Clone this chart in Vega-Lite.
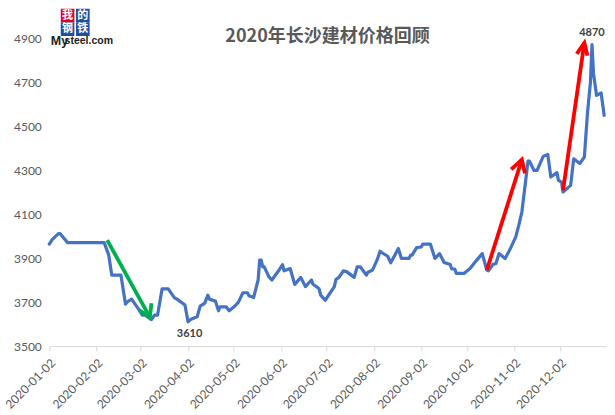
{"$schema":"https://vega.github.io/schema/vega-lite/v6.json","width":556.4,"height":308,"autosize":"none","padding":{"left":49.3,"top":38,"right":9.3,"bottom":69},"background":"white",
"title":{"text":"2020年长沙建材价格回顾","font":"Noto Sans CJK SC","fontSize":18,"fontWeight":"bold","color":"#595959","anchor":"middle","offset":-37},
"config":{"view":{"stroke":null}},
"datasets":{
"price":[{"date":"2020-01-02","value":3963},{"date":"2020-01-04","value":3985},{"date":"2020-01-08","value":4011},{"date":"2020-01-09","value":4011},{"date":"2020-01-14","value":3970},{"date":"2020-02-07","value":3970},{"date":"2020-02-10","value":3913},{"date":"2020-02-12","value":3822},{"date":"2020-02-18","value":3822},{"date":"2020-02-21","value":3690},{"date":"2020-02-22","value":3700},{"date":"2020-02-25","value":3713},{"date":"2020-03-01","value":3663},{"date":"2020-03-03","value":3640},{"date":"2020-03-05","value":3640},{"date":"2020-03-09","value":3620},{"date":"2020-03-11","value":3640},{"date":"2020-03-13","value":3640},{"date":"2020-03-16","value":3760},{"date":"2020-03-20","value":3760},{"date":"2020-03-24","value":3720},{"date":"2020-03-26","value":3712},{"date":"2020-03-31","value":3686},{"date":"2020-04-02","value":3610},{"date":"2020-04-04","value":3622},{"date":"2020-04-08","value":3633},{"date":"2020-04-10","value":3681},{"date":"2020-04-13","value":3695},{"date":"2020-04-15","value":3731},{"date":"2020-04-16","value":3713},{"date":"2020-04-20","value":3704},{"date":"2020-04-22","value":3660},{"date":"2020-04-23","value":3678},{"date":"2020-04-27","value":3678},{"date":"2020-04-29","value":3660},{"date":"2020-05-02","value":3677},{"date":"2020-05-05","value":3698},{"date":"2020-05-08","value":3742},{"date":"2020-05-11","value":3742},{"date":"2020-05-12","value":3728},{"date":"2020-05-15","value":3720},{"date":"2020-05-18","value":3800},{"date":"2020-05-19","value":3890},{"date":"2020-05-20","value":3890},{"date":"2020-05-21","value":3860},{"date":"2020-05-22","value":3860},{"date":"2020-05-25","value":3815},{"date":"2020-05-27","value":3800},{"date":"2020-06-01","value":3848},{"date":"2020-06-03","value":3870},{"date":"2020-06-04","value":3842},{"date":"2020-06-08","value":3852},{"date":"2020-06-11","value":3780},{"date":"2020-06-15","value":3812},{"date":"2020-06-18","value":3770},{"date":"2020-06-22","value":3800},{"date":"2020-06-23","value":3781},{"date":"2020-06-27","value":3760},{"date":"2020-06-28","value":3731},{"date":"2020-07-01","value":3708},{"date":"2020-07-07","value":3770},{"date":"2020-07-08","value":3802},{"date":"2020-07-10","value":3812},{"date":"2020-07-13","value":3842},{"date":"2020-07-15","value":3838},{"date":"2020-07-20","value":3812},{"date":"2020-07-22","value":3860},{"date":"2020-07-24","value":3860},{"date":"2020-07-28","value":3822},{"date":"2020-07-29","value":3835},{"date":"2020-08-01","value":3845},{"date":"2020-08-04","value":3890},{"date":"2020-08-06","value":3931},{"date":"2020-08-07","value":3925},{"date":"2020-08-11","value":3908},{"date":"2020-08-13","value":3878},{"date":"2020-08-18","value":3943},{"date":"2020-08-20","value":3898},{"date":"2020-08-25","value":3898},{"date":"2020-08-26","value":3913},{"date":"2020-08-27","value":3913},{"date":"2020-08-30","value":3947},{"date":"2020-09-02","value":3950},{"date":"2020-09-03","value":3963},{"date":"2020-09-08","value":3963},{"date":"2020-09-11","value":3898},{"date":"2020-09-14","value":3920},{"date":"2020-09-17","value":3880},{"date":"2020-09-21","value":3870},{"date":"2020-09-22","value":3850},{"date":"2020-09-24","value":3850},{"date":"2020-09-25","value":3830},{"date":"2020-09-30","value":3830},{"date":"2020-10-04","value":3852},{"date":"2020-10-08","value":3887},{"date":"2020-10-12","value":3920},{"date":"2020-10-15","value":3845},{"date":"2020-10-16","value":3842},{"date":"2020-10-19","value":3870},{"date":"2020-10-21","value":3875},{"date":"2020-10-23","value":3920},{"date":"2020-10-27","value":3898},{"date":"2020-10-30","value":3936},{"date":"2020-11-03","value":3996},{"date":"2020-11-05","value":4049},{"date":"2020-11-07","value":4109},{"date":"2020-11-09","value":4223},{"date":"2020-11-11","value":4340},{"date":"2020-11-12","value":4340},{"date":"2020-11-15","value":4298},{"date":"2020-11-17","value":4298},{"date":"2020-11-21","value":4362},{"date":"2020-11-24","value":4371},{"date":"2020-11-26","value":4268},{"date":"2020-11-30","value":4288},{"date":"2020-12-01","value":4253},{"date":"2020-12-03","value":4245},{"date":"2020-12-04","value":4200},{"date":"2020-12-09","value":4230},{"date":"2020-12-11","value":4351},{"date":"2020-12-15","value":4329},{"date":"2020-12-18","value":4359},{"date":"2020-12-20","value":4555},{"date":"2020-12-22","value":4700},{"date":"2020-12-23","value":4870},{"date":"2020-12-24","value":4739},{"date":"2020-12-26","value":4639},{"date":"2020-12-29","value":4650},{"date":"2020-12-31","value":4548}],
"arrows":[{"arrow":"down shaft","kind":"down","date":"2020-02-09","value":3981,"step":1},{"arrow":"down shaft","kind":"down","date":"2020-03-08","value":3630,"step":2},{"arrow":"down head","kind":"down","date":"2020-03-01","value":3663,"step":1},{"arrow":"down head","kind":"down","date":"2020-03-08","value":3630,"step":2},{"arrow":"down head","kind":"down","date":"2020-03-09","value":3694,"step":3},{"arrow":"up1 shaft","kind":"up","date":"2020-10-15","value":3845,"step":1},{"arrow":"up1 shaft","kind":"up","date":"2020-11-07","value":4347,"step":2},{"arrow":"up1 head","kind":"up","date":"2020-10-31","value":4303,"step":1},{"arrow":"up1 head","kind":"up","date":"2020-11-07","value":4347,"step":2},{"arrow":"up1 head","kind":"up","date":"2020-11-09","value":4285,"step":3},{"arrow":"up2 shaft","kind":"up","date":"2020-12-04","value":4208,"step":1},{"arrow":"up2 shaft","kind":"up","date":"2020-12-18","value":4878,"step":2},{"arrow":"up2 head","kind":"up","date":"2020-12-13","value":4828,"step":1},{"arrow":"up2 head","kind":"up","date":"2020-12-18","value":4878,"step":2},{"arrow":"up2 head","kind":"up","date":"2020-12-20","value":4820,"step":3}],
"notes":[{"date":"2020-04-03","value":3610,"label":"3610","dir":"below"},{"date":"2020-12-23","value":4870,"label":"4870","dir":"above"}],
"cells":[{"date":"2020-01-14","value":5002,"label":"我","tone":"red"},{"date":"2020-01-24","value":5002,"label":"的","tone":"blue"},{"date":"2020-01-14","value":4940,"label":"钢","tone":"blue"},{"date":"2020-01-24","value":4940,"label":"铁","tone":"blue"}],
"brandBig":[{"date":"2020-01-03","value":4888,"label":"My"}],
"brandSmall":[{"date":"2020-01-12","value":4886,"label":"steel.com"}]
},
"encoding":{
"x":{"field":"date","type":"temporal","title":null,"scale":{"type":"utc","domain":["2020-01-02","2021-01-01"],"nice":false},
"axis":{"values":["2020-01-02","2020-02-02","2020-03-02","2020-04-02","2020-05-02","2020-06-02","2020-07-02","2020-08-02","2020-09-02","2020-10-02","2020-11-02","2020-12-02"],"labelExpr":"utcFormat(datum.value,'%Y-%m-%d')","labelAngle":-45,"labelAlign":"right","labelBaseline":"top","labelFont":"Lato","labelFontSize":12,"labelColor":"#595959","domainColor":"#D9D9D9","domainWidth":1,"tickColor":"#D9D9D9","tickSize":5,"labelPadding":6,"grid":false,"labelOverlap":false,"labelBound":false,"labelFlush":false}},
"y":{"field":"value","type":"quantitative","title":null,"scale":{"domain":[3500,4900],"nice":false,"zero":false},
"axis":{"values":[3500,3700,3900,4100,4300,4500,4700,4900],"format":"d","grid":false,"domain":false,"ticks":false,"labelFont":"Lato","labelFontSize":12,"labelColor":"#595959","labelPadding":8}}
},
"layer":[
{"data":{"name":"price"},"mark":{"type":"line","color":"#4472C4","strokeWidth":3.2,"strokeJoin":"round","strokeCap":"round"}},
{"data":{"name":"arrows"},"mark":{"type":"line","strokeWidth":3.8,"strokeJoin":"miter","strokeCap":"butt"},"encoding":{"detail":{"field":"arrow"},"order":{"field":"step"},"color":{"field":"kind","type":"nominal","legend":null,"scale":{"domain":["down","up","red","blue"],"range":["#00B050","#FF0000","#E60026","#1F4E9E"]}}}},
{"data":{"name":"notes"},"transform":[{"filter":"datum.dir==='below'"}],"mark":{"type":"text","font":"Lato","fontSize":11,"fontWeight":"bold","color":"#404040","dy":12},"encoding":{"text":{"field":"label"}}},
{"data":{"name":"notes"},"transform":[{"filter":"datum.dir==='above'"}],"mark":{"type":"text","font":"Lato","fontSize":11,"fontWeight":"bold","color":"#404040","dy":-12},"encoding":{"text":{"field":"label"}}},
{"data":{"name":"cells"},"mark":{"type":"point","shape":"square","filled":true,"size":185,"opacity":1},"encoding":{"color":{"field":"tone","type":"nominal","legend":null,"scale":{"domain":["down","up","red","blue"],"range":["#00B050","#FF0000","#E60026","#1F4E9E"]}}}},
{"data":{"name":"cells"},"mark":{"type":"text","font":"Noto Sans CJK SC","fontSize":11,"fontWeight":"bold","color":"white"},"encoding":{"text":{"field":"label"}}},
{"data":{"name":"brandBig"},"mark":{"type":"text","font":"Liberation Sans","fontSize":12.5,"fontWeight":"bold","color":"#222222","align":"left"},"encoding":{"text":{"field":"label"}}},
{"data":{"name":"brandSmall"},"mark":{"type":"text","font":"Liberation Sans","fontSize":10.5,"fontWeight":"bold","color":"#222222","align":"left"},"encoding":{"text":{"field":"label"}}}
]}
